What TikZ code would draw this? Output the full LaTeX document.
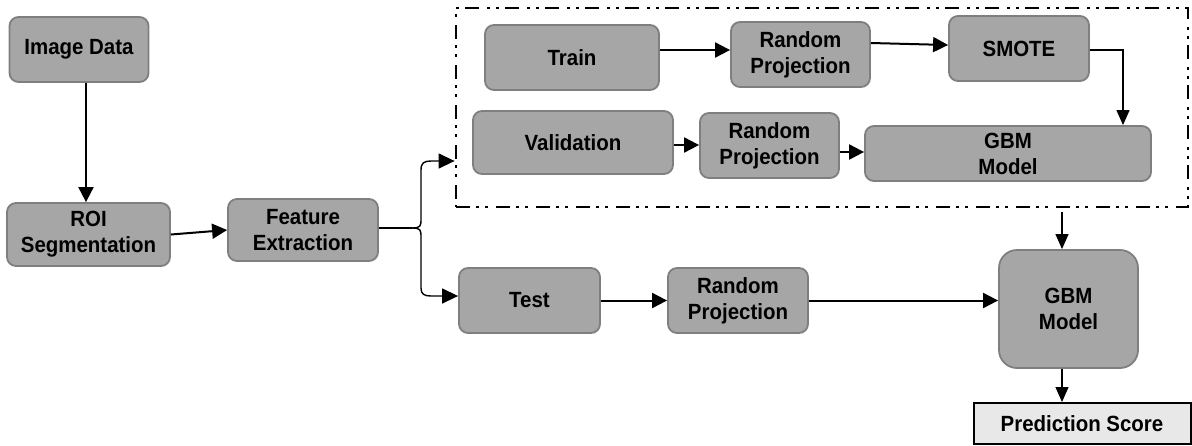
\documentclass[tikz,border=0pt]{standalone}
\usepackage{fontspec}
\setmainfont[FakeStretch=0.93]{Liberation Sans}
\usetikzlibrary{arrows.meta,calc}
\definecolor{boxfill}{HTML}{A6A6A6}
\definecolor{boxborder}{HTML}{7F7F7F}
\definecolor{predfill}{HTML}{E8E8E8}
\begin{document}
\begin{tikzpicture}[x=1pt,y=-1pt,
  box/.style={draw=boxborder, fill=boxfill, line width=1.8pt, rounded corners=9pt,
    align=center, inner sep=0pt, font=\bfseries\fontsize{22}{26}\selectfont},
  predbox/.style={draw=black, fill=predfill, line width=2pt, align=center, inner sep=0pt,
    font=\bfseries\fontsize{22}{26}\selectfont},
  groupbox/.style={draw=black, line width=2.8pt,
    dash pattern=on 14pt off 6pt on 3pt off 6pt on 3pt off 8pt, inner sep=0pt},
  arr/.style={line width=2pt, -{Triangle[length=15pt,width=15pt]}},
  thinarr/.style={line width=1.2pt, -{Triangle[length=15pt,width=13pt]}},
  bracearr/.style={line width=1.4pt, -{Triangle[length=16pt,width=15pt]}}]
\useasboundingbox (0,0) rectangle (1192,445);

% dashed group frame
\node[groupbox, minimum width=732pt, minimum height=199pt] (grp) at (822,107.5) {};

% boxes
\node[box, minimum width=139pt, minimum height=65pt] (img) at (79,49.5) {Image Data};
\node[box, minimum width=163pt, minimum height=63pt] (roi) at (88.5,234.5) {ROI\\Segmentation};
\node[box, minimum width=150pt, minimum height=62pt] (feat) at (303,230) {Feature\\Extraction};
\node[box, minimum width=174pt, minimum height=65pt] (train) at (572,57.5) {Train};
\node[box, minimum width=139pt, minimum height=65pt] (rp1) at (800.5,54.5) {Random\\Projection};
\node[box, minimum width=140pt, minimum height=65pt] (smote) at (1019,48.5) {SMOTE};
\node[box, minimum width=200pt, minimum height=63pt] (val) at (573,142.5) {Validation};
\node[box, minimum width=139pt, minimum height=65pt] (rp2) at (769.5,145.5) {Random\\Projection};
\node[box, minimum width=286pt, minimum height=55pt] (gbm1) at (1008,153.5) {GBM\\Model};
\node[box, minimum width=141pt, minimum height=65pt] (test) at (529.5,300.5) {Test};
\node[box, minimum width=140pt, minimum height=65pt] (rp3) at (738,300.5) {Random\\Projection};
\node[box, rounded corners=18pt, minimum width=139pt, minimum height=118pt] (gbm2) at (1068.5,309) {GBM\\Model};
\node[predbox, minimum width=217pt, minimum height=41pt] (pred) at (1082,423.5) {Prediction Score};

% helper coordinates
\coordinate (ax1) at (86,0);
\coordinate (ax2) at (1062,0);
\coordinate (ax3) at (1123,0);
\coordinate (br) at (412,228);

% connectors
\draw[arr] (img.south -| ax1) -- (roi.north -| ax1);
\draw[arr] (roi.east) -- (feat.west);
\draw[arr] (train.east |- 0,50) -- (rp1.west |- 0,50);
\draw[arr] (rp1.east |- 0,43) -- (smote.west |- 0,45);
\draw[thinarr] (smote.east |- 0,50) -| (gbm1.north -| ax3);
\draw[arr] (val.east |- 0,145) -- (rp2.west |- 0,145);
\draw[arr] (rp2.east |- 0,152) -- (gbm1.west |- 0,152);
\draw[arr] (test.east) -- (rp3.west);
\draw[arr] (rp3.east) -- (gbm2.west |- rp3.east);
\draw[thinarr] ($(grp.south -| ax2)+(0,4)$) -- (gbm2.north -| ax2);
\draw[thinarr] (gbm2.south -| ax2) -- (pred.north -| ax2);

% brace split from Feature Extraction
\draw[line width=1.4pt] (feat.east |- br) -- (br);
\draw[bracearr] (br) .. controls (421,228) and (421,226) .. (421,218) -- (421,170)
  .. controls (421,163) and (424,161) .. (431,161) -- (grp.west |- 0,161);
\draw[bracearr] (br) .. controls (421,228) and (421,230) .. (421,238) -- (421,288)
  .. controls (421,294) and (424,296) .. (431,296) -- (test.west |- 0,296);
\end{tikzpicture}
\end{document}
